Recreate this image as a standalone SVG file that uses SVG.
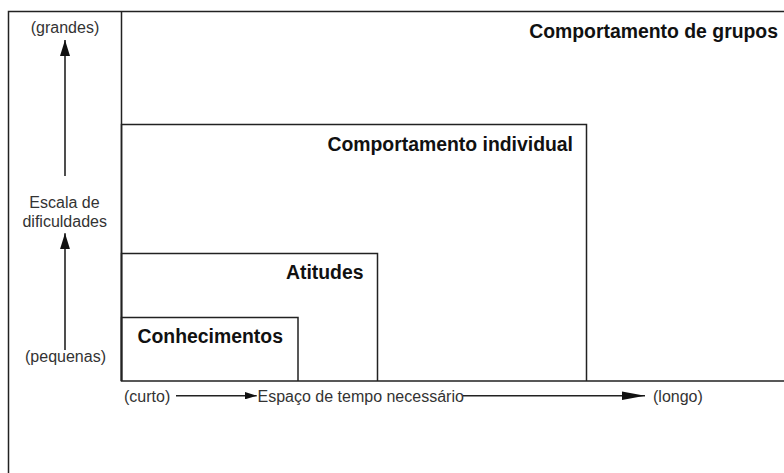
<svg xmlns="http://www.w3.org/2000/svg" width="784" height="473" viewBox="0 0 784 473">
<style>
.ln{fill:none;stroke:#222;stroke-width:1.5}
.b{font-family:"Liberation Sans",Arial,sans-serif;font-weight:bold;font-size:19.4px;fill:#111}
.r{font-family:"Liberation Sans",Arial,sans-serif;font-size:16px;fill:#333}
.ar{fill:none;stroke:#222;stroke-width:1.6}
</style>
<defs>
<marker id="av" markerUnits="userSpaceOnUse" viewBox="0 0 16 10" refX="16" refY="5" markerWidth="16" markerHeight="10" orient="auto"><path d="M0,0 L16,5 L0,10 z" fill="#111"/></marker>
<marker id="ah1" markerUnits="userSpaceOnUse" viewBox="0 0 12 7.5" refX="12" refY="3.75" markerWidth="12" markerHeight="7.5" orient="auto"><path d="M0,0 L12,3.75 L0,7.5 z" fill="#111"/></marker>
<marker id="ah2" markerUnits="userSpaceOnUse" viewBox="0 0 23 8.5" refX="23" refY="4.25" markerWidth="23" markerHeight="8.5" orient="auto"><path d="M0,0 L23,4.25 L0,8.5 z" fill="#111"/></marker>
</defs>
<rect width="784" height="473" fill="#fff"/>
<g id="frame"><path class="ln" d="M8.5,474 V11.5 H785"/></g>
<g id="grupos"><path class="ln" d="M121.5,11.5 V381 H785"/><text class="b" x="778" y="37.7" text-anchor="end">Comportamento de grupos</text></g>
<g id="individual"><path class="ln" d="M121.5,381 V124.5 H586.5 V381"/><text class="b" x="573" y="150.5" text-anchor="end">Comportamento individual</text></g>
<g id="atitudes"><path class="ln" d="M121.5,381 V253.5 H377.5 V381"/><text class="b" x="363.5" y="279.3" text-anchor="end">Atitudes</text></g>
<g id="conhecimentos"><path class="ln" d="M121.5,381 V317.5 H298 V381"/><text class="b" x="137.5" y="342.7">Conhecimentos</text></g>
<g id="labels">
<text class="r" x="65" y="33" text-anchor="middle">(grandes)</text>
<text class="r" x="64.5" y="208.3" text-anchor="middle">Escala de</text>
<text class="r" x="64.7" y="226.7" text-anchor="middle">dificuldades</text>
<text class="r" x="65.5" y="362" text-anchor="middle">(pequenas)</text>
<text class="r" x="124" y="402">(curto)</text>
<text class="r" x="257.5" y="402">Espaço de tempo necessário</text>
<text class="r" x="653" y="402">(longo)</text>
</g>
<g id="connectors">
<line class="ar" x1="65" y1="176" x2="65" y2="40" marker-end="url(#av)"/>
<line class="ar" x1="65" y1="350" x2="65" y2="233.3" marker-end="url(#av)"/>
<line class="ar" x1="176" y1="395.7" x2="256.7" y2="395.7" marker-end="url(#ah1)"/>
<line class="ar" x1="463" y1="395.7" x2="645" y2="395.7" marker-end="url(#ah2)"/>
</g>
</svg>
